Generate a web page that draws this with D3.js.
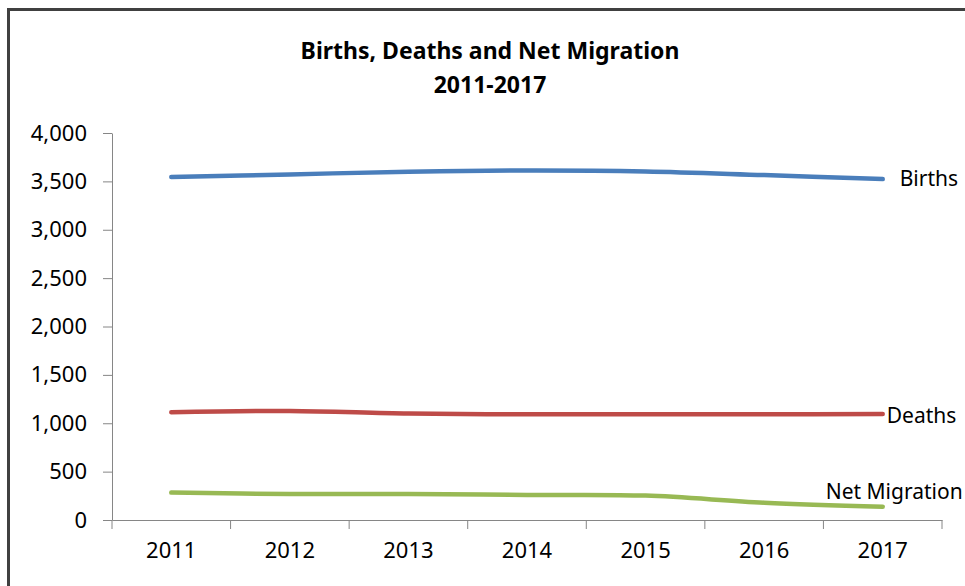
<!DOCTYPE html>
<html>
<head>
<meta charset="utf-8">
<script src="https://cdn.jsdelivr.net/npm/d3@7"></script>
<style>
  body { margin: 0; background: #fff; }
  svg { display: block; }
  text { font-family: "Noto Sans", "DejaVu Sans", sans-serif; fill: #000; }
</style>
</head>
<body>
<div id="chart"></div>
<script>
// data
const years = ["2011", "2012", "2013", "2014", "2015", "2016", "2017"];
const births = [3545, 3572, 3600, 3613, 3603, 3565, 3524];
const deaths = [1114, 1127, 1100, 1093, 1093, 1093, 1096];
const netMigration = [283, 269, 269, 259, 252, 179, 138];
const yTicks = [0, 500, 1000, 1500, 2000, 2500, 3000, 3500, 4000];

const series = [
    { name: "Births", values: births, color: "#4a7ebb", labelDx: 17, labelDy: 0 },
    { name: "Deaths", values: deaths, color: "#be4b48", labelDx: 4, labelDy: 2 },
    { name: "Net Migration", values: netMigration, color: "#98b954", labelDx: -57, labelDy: -15 }
];

const width = 965, height = 586;
const margin = { top: 133, right: 23, bottom: 66, left: 112 };
const fontFamily = "'Noto Sans', 'DejaVu Sans', sans-serif";

const svg = d3.select("#chart").append("svg")
    .attr("width", width)
    .attr("height", height);

// chart frame
svg.append("rect")
    .attr("x", 8.5)
    .attr("y", 9.5)
    .attr("width", width + 20)
    .attr("height", height + 20)
    .attr("fill", "none")
    .attr("stroke", "#404040")
    .attr("stroke-width", 3);

// title
svg.append("text")
    .attr("x", 490)
    .attr("y", 59)
    .attr("text-anchor", "middle")
    .style("font-size", "23px")
    .style("font-weight", "bold")
    .text("Births, Deaths and Net Migration");
svg.append("text")
    .attr("x", 490)
    .attr("y", 93)
    .attr("text-anchor", "middle")
    .style("font-size", "23px")
    .style("font-weight", "bold")
    .text("2011-2017");

const x = d3.scaleBand()
    .domain(years)
    .range([margin.left, width - margin.right]);

const y = d3.scaleLinear()
    .domain([0, 4000])
    .range([height - margin.bottom, margin.top]);

const axisColor = "#868686";

// y axis
const yAxis = svg.append("g")
    .attr("transform", `translate(${margin.left},0)`)
    .call(d3.axisLeft(y).tickValues(yTicks).tickSize(9).tickSizeOuter(0).tickPadding(16).tickFormat(d3.format(",")));
yAxis.select(".domain").attr("stroke", axisColor);
yAxis.selectAll(".tick line").attr("stroke", axisColor);
yAxis.selectAll(".tick text")
    .style("font-size", "22px")
    .style("font-family", fontFamily)
    .attr("fill", "#000");

// x axis
const xAxis = svg.append("g")
    .attr("transform", `translate(0,${y(0)})`)
    .call(d3.axisBottom(x).tickSize(0).tickSizeOuter(0).tickPadding(22));
xAxis.select(".domain").attr("stroke", axisColor);
xAxis.selectAll(".tick text")
    .style("font-size", "22px")
    .style("font-family", fontFamily)
    .attr("fill", "#000");

// category boundary ticks
const edges = years.map(d => x(d)).concat([x(years[years.length - 1]) + x.bandwidth()]);
xAxis.selectAll(".edge")
    .data(edges)
    .enter()
    .append("line")
    .attr("class", "edge")
    .attr("x1", d => d)
    .attr("x2", d => d)
    .attr("y1", 0)
    .attr("y2", 9)
    .attr("stroke", axisColor);

// smoothed lines
const line = d3.line()
    .x((d, i) => x(years[i]) + x.bandwidth() / 2)
    .y(d => y(d))
    .curve(d3.curveCatmullRom.alpha(0.5));

svg.selectAll(".series")
    .data(series)
    .enter()
    .append("path")
    .attr("class", "series")
    .attr("d", d => line(d.values))
    .attr("fill", "none")
    .attr("stroke", d => d.color)
    .attr("stroke-width", 4.5)
    .attr("stroke-linecap", "round");

// end labels
const last = years.length - 1;
svg.selectAll(".label")
    .data(series)
    .enter()
    .append("text")
    .attr("class", "label")
    .attr("x", d => x(years[last]) + x.bandwidth() / 2 + d.labelDx)
    .attr("y", d => y(d.values[last]) + d.labelDy)
    .attr("dy", "0.35em")
    .style("font-size", "21px")
    .text(d => d.name);
</script>
</body>
</html>
